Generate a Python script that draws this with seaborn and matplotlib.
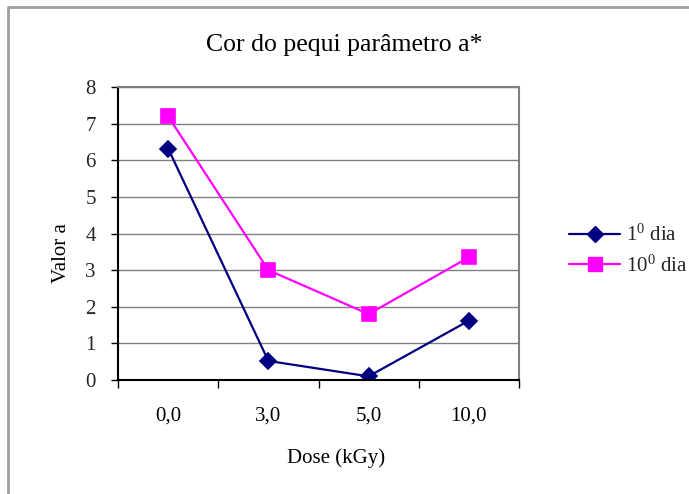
import matplotlib
matplotlib.use("Agg")
import matplotlib.pyplot as plt
import seaborn as sns
import pandas as pd
from matplotlib.lines import Line2D

doses = ["0,0", "3,0", "5,0", "10,0"]
dia1 = [6.32, 0.52, 0.10, 1.62]
dia10 = [7.20, 3.00, 1.80, 3.35]
series_names = ["1$^{0}$ dia", "10$^{0}$ dia"]
title = "Cor do pequi parâmetro a*"
xlabel = "Dose (kGy)"
ylabel = "Valor a"
yticks = [0, 1, 2, 3, 4, 5, 6, 7, 8]

sns.set_theme(style="white")
plt.rcParams['font.family'] = ['Liberation Serif', 'DejaVu Serif']
plt.rcParams['mathtext.fontset'] = 'custom'
plt.rcParams['mathtext.rm'] = 'Liberation Serif'
plt.rcParams['mathtext.it'] = 'Liberation Serif:italic'

fig = plt.figure(figsize=(6.89, 4.94), dpi=100)
ax = fig.add_axes([118/689, 1-380/494, (519-118)/689, (380-87)/494])

df = pd.DataFrame({
    "Dose": doses * 2,
    "Valor": dia1 + dia10,
    "Serie": [series_names[0]] * 4 + [series_names[1]] * 4,
})

colors = ["#000080", "#FF00FF"]
markers = ["D", "s"]
msizes = [8.5, 10]
fs = 15
for name, c, m, ms in zip(series_names, colors, markers, msizes):
    sub = df[df["Serie"] == name]
    sns.pointplot(data=sub, x="Dose", y="Valor", color=c, markers=m,
                  linestyles="-", markersize=ms, linewidth=1.6, ax=ax,
                  order=doses)

ax.set_xlim(-0.5, 3.5)
ax.set_ylim(0, 8)
ax.set_yticks(yticks)
ax.set_yticklabels([str(v) for v in yticks])
ax.yaxis.grid(True, color="#808080", linewidth=1)
ax.set_axisbelow(True)

ax.set_xticks(range(len(doses)))
ax.set_xticklabels(doses)
ax.set_xticks([-0.5, 0.5, 1.5, 2.5, 3.5], minor=True)
ax.tick_params(axis="x", which="major", length=0, pad=19, labelsize=fs, colors="black")
ax.tick_params(axis="x", which="minor", length=6, width=1, color="black", direction="out", bottom=True)
ax.tick_params(axis="y", which="major", length=5, width=1, color="black", direction="out",
               pad=11, labelsize=fs, left=True)

for s in ["left", "bottom"]:
    ax.spines[s].set_color("black")
    ax.spines[s].set_linewidth(1.5)
for s in ["top", "right"]:
    ax.spines[s].set_color("#808080")
    ax.spines[s].set_linewidth(1.5)

ax.set_xlabel(xlabel, fontsize=fs, color="black")
ax.xaxis.set_label_coords(0.545, -0.232)
ax.set_ylabel(ylabel, fontsize=fs, color="black")
ax.yaxis.set_label_coords(-0.116, 0.432)
fig.suptitle(title, fontsize=18.5, y=1-45/494, va="center", color="black")

handles = [Line2D([0], [0], color=c, marker=m, markersize=ms, linewidth=1.6)
           for c, m, ms in zip(colors, markers, msizes)]
fig.legend(handles, series_names, loc="center left", bbox_to_anchor=(569/689, 1-250.5/494),
           frameon=False, fontsize=fs, handlelength=2.45, labelspacing=0.45,
           handletextpad=0.29, borderpad=0, borderaxespad=0)

fig.add_artist(Line2D([8/689, 8/689, 1.0], [0.0, 1-7/494, 1-7/494],
                      transform=fig.transFigure, color="#a0a0a0", linewidth=2))

fig.savefig("out.png", dpi=100)
